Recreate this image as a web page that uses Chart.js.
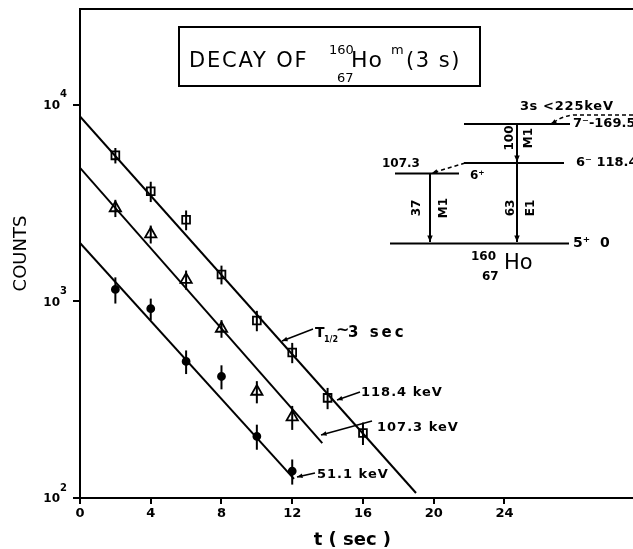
<!DOCTYPE html>
<html>
<head>
<meta charset="utf-8">
<title>Decay of 160Ho(m)</title>
<script src="https://cdn.jsdelivr.net/npm/chart.js@4.4.0/dist/chart.umd.min.js"></script>
<style>
  body { margin: 0; background: #fff; }
  #wrap { width: 633px; height: 549px; }
</style>
</head>
<body>
<div id="wrap"><canvas id="decay"></canvas></div>
<script>
// time bins (s)
const times = [2, 4, 6, 8, 10, 12, 14, 16];

// 118.4 keV line (squares)
const counts118 = [5530, 3630, 2600, 1370, 800, 550, 323, 214];
const err118 = [500, 430, 300, 150, 95, 65, 40, 28];

// 107.3 keV line (triangles)
const counts107 = [2985, 2200, 1290, 728, 348, 258];
const err107 = [300, 230, 145, 75, 45, 36];

// 51.1 keV line (dots)
const counts51 = [1150, 918, 495, 415, 206, 137];
const err51 = [175, 115, 68, 58, 30, 20];

// fitted exponentials, T1/2 ~ 3 s: end points (t, counts)
const fitT118 = [0, 19.0];
const fit118 = [8730, 106];
const fitT107 = [0, 13.7];
const fit107 = [4780, 190];
const fitT51 = [0, 12.1];
const fit51 = [1983, 125];

const xTicks = [0, 4, 8, 12, 16, 20, 24];
const yTicks = [100, 1000, 10000];
const yExponents = ['2', '3', '4'];

const FONT = "'DejaVu Sans', sans-serif";

const pts = (xs, ys) => ys.map((y, i) => ({ x: xs[i], y: y }));

function arrow(ctx, x1, y1, x2, y2, head, dashed) {
  ctx.save();
  if (dashed) ctx.setLineDash([4, 3]);
  ctx.beginPath();
  ctx.moveTo(x1, y1);
  ctx.lineTo(x2, y2);
  ctx.stroke();
  ctx.setLineDash([]);
  const a = Math.atan2(y2 - y1, x2 - x1);
  ctx.beginPath();
  ctx.moveTo(x2, y2);
  ctx.lineTo(x2 - head * Math.cos(a - 0.4), y2 - head * Math.sin(a - 0.4));
  ctx.lineTo(x2 - head * Math.cos(a + 0.4), y2 - head * Math.sin(a + 0.4));
  ctx.closePath();
  ctx.fill();
  ctx.restore();
}

function line(ctx, x1, y1, x2, y2) {
  ctx.beginPath();
  ctx.moveTo(x1, y1);
  ctx.lineTo(x2, y2);
  ctx.stroke();
}

function text(ctx, s, x, y, font, spacing) {
  ctx.font = font;
  ctx.letterSpacing = (spacing || 0) + 'px';
  ctx.fillText(s, x, y);
  ctx.letterSpacing = '0px';
}

// rotated label, reads bottom to top
function vtext(ctx, s, x, y, font) {
  ctx.save();
  ctx.translate(x, y);
  ctx.rotate(-Math.PI / 2);
  ctx.textAlign = 'center';
  ctx.font = font;
  ctx.fillText(s, 0, 0);
  ctx.restore();
}

const decoration = {
  id: 'decoration',
  afterDatasetsDraw(chart) {
    const ctx = chart.ctx;
    const ys = chart.scales.y;
    ctx.save();
    ctx.strokeStyle = '#000';
    ctx.lineWidth = 2;
    chart.data.datasets.forEach((ds, di) => {
      if (!ds.errors) return;
      chart.getDatasetMeta(di).data.forEach((p, i) => {
        const v = ds.data[i].y, e = ds.errors[i];
        line(ctx, p.x, ys.getPixelForValue(v + e), p.x, ys.getPixelForValue(v - e));
      });
    });
    ctx.restore();
  },
  afterDraw(chart) {
    const ctx = chart.ctx;
    const a = chart.chartArea;
    const ys = chart.scales.y;
    ctx.save();
    ctx.strokeStyle = '#000';
    ctx.fillStyle = '#000';
    ctx.lineWidth = 2;
    ctx.textBaseline = 'middle';

    // frame: top line, and both lines run on to the page edge
    line(ctx, a.left - 1, a.top, chart.width, a.top);
    line(ctx, a.right - 1, a.bottom, chart.width, a.bottom);

    // y tick labels: 10 with a raised exponent
    ys.ticks.forEach((t) => {
      const y = ys.getPixelForValue(t.value);
      const k = yTicks.indexOf(t.value);
      if (k < 0) return;
      ctx.textAlign = 'right';
      text(ctx, '10', 60, y + 1, 'bold 12px ' + FONT);
      ctx.textAlign = 'left';
      text(ctx, yExponents[k], 60, y - 10, 'bold 10px ' + FONT);
    });
    ctx.textAlign = 'left';

    // title box
    ctx.strokeRect(179, 27, 301, 59);
    ctx.textBaseline = 'alphabetic';
    text(ctx, 'DECAY OF', 189, 67, '21px ' + FONT, 1.8);
    text(ctx, '160', 329, 54, '13px ' + FONT);
    text(ctx, '67', 337, 82, '13px ' + FONT);
    text(ctx, 'Ho', 351, 67, '22px ' + FONT, 1);
    text(ctx, 'm', 391, 54, '13px ' + FONT);
    text(ctx, '(3 s)', 406, 67, '21px ' + FONT, 1.5);

    // fit-line labels
    ctx.lineWidth = 1.5;
    text(ctx, 'T', 315, 337, 'bold 14px ' + FONT);
    text(ctx, '1/2', 324, 342, 'bold 8px ' + FONT);
    text(ctx, '~', 336, 335, 'bold 16px ' + FONT);
    text(ctx, '3 sec', 348, 337, 'bold 15px ' + FONT, 3);
    arrow(ctx, 313, 329, 282, 341, 6);

    text(ctx, '118.4 keV', 361, 396, 'bold 13px ' + FONT, 1);
    arrow(ctx, 360, 392, 337, 400, 6);

    text(ctx, '107.3 keV', 377, 431, 'bold 13px ' + FONT, 1);
    arrow(ctx, 372, 421, 321, 435, 6);

    text(ctx, '51.1 keV', 317, 478, 'bold 13px ' + FONT, 1);
    arrow(ctx, 315, 473, 297, 477, 6);

    // level scheme of 160Ho
    ctx.lineWidth = 2;
    ctx.textBaseline = 'middle';
    const lb = 'bold 12px ' + FONT;
    text(ctx, '3s', 520, 107, 'bold 13px ' + FONT, 0.5);
    text(ctx, '<225keV', 543, 107, 'bold 13px ' + FONT, 0.8);
    ctx.lineWidth = 1.5;
    ctx.save();
    ctx.setLineDash([4, 3]);
    ctx.beginPath();
    ctx.moveTo(633, 115);
    ctx.lineTo(574, 115);
    ctx.quadraticCurveTo(563, 116, 556, 121);
    ctx.stroke();
    ctx.restore();
    arrow(ctx, 556, 121, 551, 124, 6);

    ctx.lineWidth = 2;
    line(ctx, 464, 124, 570, 124);
    text(ctx, '7⁻-169.5', 573, 124, 'bold 13px ' + FONT);
    line(ctx, 464, 163, 564, 163);
    text(ctx, '6⁻ 118.4', 576, 163, 'bold 13px ' + FONT);
    line(ctx, 395, 173.5, 459, 173.5);
    text(ctx, '107.3', 382, 164, lb);
    text(ctx, '6⁺', 470, 176, lb);
    line(ctx, 390, 243.5, 569, 243.5);
    text(ctx, '5⁺  0', 573, 243.5, 'bold 14px ' + FONT);

    ctx.lineWidth = 1.5;
    arrow(ctx, 465, 163, 432, 173, 6, true);
    ctx.lineWidth = 2;
    arrow(ctx, 517, 124, 517, 162, 7);
    arrow(ctx, 517, 163, 517, 242, 7);
    arrow(ctx, 430, 174, 430, 242, 7);

    vtext(ctx, '100', 510, 138, lb);
    vtext(ctx, 'M1', 529, 138, lb);
    vtext(ctx, '37', 417, 208, lb);
    vtext(ctx, 'M1', 444, 208, lb);
    vtext(ctx, '63', 511, 208, lb);
    vtext(ctx, 'E1', 531, 208, lb);

    text(ctx, '160', 471, 257, 'bold 12px ' + FONT);
    text(ctx, 'Ho', 504, 264, '21px ' + FONT);
    text(ctx, '67', 482, 277, 'bold 12px ' + FONT);

    ctx.restore();
  }
};

const fitStyle = {
  showLine: true,
  borderColor: '#000',
  borderWidth: 2,
  pointRadius: 0
};

const markerStyle = {
  showLine: false,
  borderColor: '#000',
  backgroundColor: '#fff',
  pointBorderWidth: 1.8
};

new Chart(document.getElementById('decay'), {
  type: 'scatter',
  data: {
    datasets: [
      Object.assign({ label: 'fit 118.4 keV', data: pts(fitT118, fit118) }, fitStyle),
      Object.assign({ label: 'fit 107.3 keV', data: pts(fitT107, fit107) }, fitStyle),
      Object.assign({ label: 'fit 51.1 keV', data: pts(fitT51, fit51) }, fitStyle),
      Object.assign({ label: '118.4 keV', data: pts(times, counts118), errors: err118,
        pointStyle: 'rect', pointRadius: 5.5 }, markerStyle),
      Object.assign({ label: '107.3 keV', data: pts(times, counts107), errors: err107,
        pointStyle: 'triangle', pointRadius: 6.5 }, markerStyle),
      Object.assign({ label: '51.1 keV', data: pts(times, counts51), errors: err51,
        pointStyle: 'circle', pointRadius: 3.5 }, markerStyle, { backgroundColor: '#000' })
    ]
  },
  options: {
    responsive: true,
    maintainAspectRatio: false,
    animation: false,
    layout: { padding: { top: 9, right: 0, left: 0, bottom: 0 } },
    plugins: {
      legend: { display: false },
      tooltip: { enabled: false }
    },
    scales: {
      x: {
        type: 'linear',
        min: 0,
        max: 30.8,
        afterBuildTicks: (s) => { s.ticks = xTicks.map((v) => ({ value: v })); },
        afterFit: (s) => { s.height = 51; },
        grid: { drawOnChartArea: false, color: '#000', lineWidth: 2, tickLength: 6 },
        border: { color: '#000', width: 2 },
        ticks: { color: '#000', padding: 2, maxRotation: 0, font: { family: FONT, size: 13, weight: 'bold' } },
        title: {
          display: true,
          text: 't ( sec )',
          color: '#000',
          padding: { top: 0, bottom: 0 },
          font: { family: FONT, size: 18, weight: 'bold', lineHeight: 1 }
        }
      },
      y: {
        type: 'logarithmic',
        min: 100,
        max: 30700,
        afterBuildTicks: (s) => { s.ticks = yTicks.map((v) => ({ value: v })); },
        afterFit: (s) => { s.width = 80; },
        grid: { drawOnChartArea: false, color: '#000', lineWidth: 2, tickLength: 7 },
        border: { color: '#000', width: 2 },
        ticks: { display: false },
        title: {
          display: true,
          text: 'COUNTS',
          color: '#000',
          padding: { top: 11, bottom: 0 },
          font: { family: FONT, size: 18, lineHeight: 1.2 }
        }
      }
    }
  },
  plugins: [decoration]
});
</script>
</body>
</html>
